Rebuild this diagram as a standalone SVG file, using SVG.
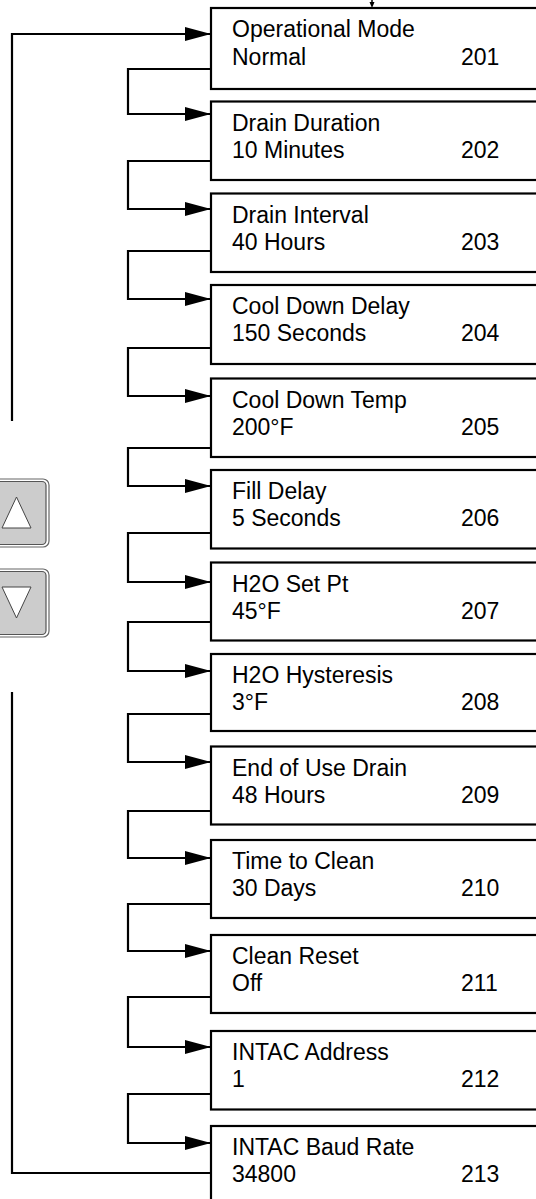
<svg xmlns="http://www.w3.org/2000/svg" width="536" height="1199" viewBox="0 0 536 1199">
<style>
.box{fill:#fff;stroke:#000;stroke-width:2.2}
.t{font-family:"Liberation Sans",Arial,sans-serif;font-size:23px;fill:#000}
.c{fill:none;stroke:#000;stroke-width:2.2}
.btno{fill:#fff;stroke:#666;stroke-width:1.2}
.btni{fill:#cccccc;stroke:#555;stroke-width:1.2}
.tri{fill:#fff;stroke:#444;stroke-width:1}
</style>
<defs>
<marker id="ah" viewBox="0 0 26 14" refX="26" refY="7" markerWidth="26" markerHeight="14" markerUnits="userSpaceOnUse" orient="auto">
<path d="M0,0 L26,7 L0,14 Z" fill="#000"/>
</marker>
</defs>
<rect width="536" height="1199" fill="#fff"/>
<g id="connectors">
<line x1="372" y1="0" x2="372" y2="3" stroke="#000" stroke-width="1.5"/>
<polygon points="369.5,2 374.5,2 372,8" fill="#000"/>
<path class="c" d="M211,1173 H12 V692"/>
<path class="c" d="M12,421 V34 H211" marker-end="url(#ah)"/>
<path class="c" d="M211,69 H128 V114 H211" marker-end="url(#ah)"/>
<path class="c" d="M211,161 H128 V209 H211" marker-end="url(#ah)"/>
<path class="c" d="M211,251 H128 V299 H211" marker-end="url(#ah)"/>
<path class="c" d="M211,348 H128 V396 H211" marker-end="url(#ah)"/>
<path class="c" d="M211,448 H128 V486 H211" marker-end="url(#ah)"/>
<path class="c" d="M211,533 H128 V582 H211" marker-end="url(#ah)"/>
<path class="c" d="M211,622 H128 V671 H211" marker-end="url(#ah)"/>
<path class="c" d="M211,714 H128 V762 H211" marker-end="url(#ah)"/>
<path class="c" d="M211,811 H128 V858 H211" marker-end="url(#ah)"/>
<path class="c" d="M211,904 H128 V951 H211" marker-end="url(#ah)"/>
<path class="c" d="M211,997 H128 V1047 H211" marker-end="url(#ah)"/>
<path class="c" d="M211,1094 H128 V1143 H211" marker-end="url(#ah)"/>
</g>
<g id="btn-up">
<rect class="btno" x="-6" y="479" width="55" height="68" rx="6"/>
<rect class="btni" x="-4" y="481.5" width="50" height="63" rx="4"/>
<polygon class="tri" points="2,528 31,528 16.5,497"/>
</g>
<g id="btn-down">
<rect class="btno" x="-6" y="569" width="55" height="68" rx="6"/>
<rect class="btni" x="-4" y="571.5" width="50" height="63" rx="4"/>
<polygon class="tri" points="2,587 31,587 16.5,618"/>
</g>
<g id="n201"><rect class="box" x="211" y="8" width="340" height="81"/><text class="t" x="232" y="37">Operational Mode</text><text class="t" x="232" y="65">Normal</text><text class="t" x="461" y="65">201</text></g>
<g id="n202"><rect class="box" x="211" y="101.5" width="340" height="78.5"/><text class="t" x="232" y="130.5">Drain Duration</text><text class="t" x="232" y="157.5">10 Minutes</text><text class="t" x="461" y="157.5">202</text></g>
<g id="n203"><rect class="box" x="211" y="193.5" width="340" height="78.5"/><text class="t" x="232" y="222.5">Drain Interval</text><text class="t" x="232" y="249.5">40 Hours</text><text class="t" x="461" y="249.5">203</text></g>
<g id="n204"><rect class="box" x="211" y="285" width="340" height="79"/><text class="t" x="232" y="314">Cool Down Delay</text><text class="t" x="232" y="341">150 Seconds</text><text class="t" x="461" y="341">204</text></g>
<g id="n205"><rect class="box" x="211" y="378.5" width="340" height="78.5"/><text class="t" x="232" y="407.5">Cool Down Temp</text><text class="t" x="232" y="434.5">200°F</text><text class="t" x="461" y="434.5">205</text></g>
<g id="n206"><rect class="box" x="211" y="470" width="340" height="78.5"/><text class="t" x="232" y="499">Fill Delay</text><text class="t" x="232" y="526">5 Seconds</text><text class="t" x="461" y="526">206</text></g>
<g id="n207"><rect class="box" x="211" y="562.5" width="340" height="78"/><text class="t" x="232" y="591.5">H2O Set Pt</text><text class="t" x="232" y="618.5">45°F</text><text class="t" x="461" y="618.5">207</text></g>
<g id="n208"><rect class="box" x="211" y="654" width="340" height="77"/><text class="t" x="232" y="683">H2O Hysteresis</text><text class="t" x="232" y="710">3°F</text><text class="t" x="461" y="710">208</text></g>
<g id="n209"><rect class="box" x="211" y="746.5" width="340" height="78"/><text class="t" x="232" y="775.5">End of Use Drain</text><text class="t" x="232" y="802.5">48 Hours</text><text class="t" x="461" y="802.5">209</text></g>
<g id="n210"><rect class="box" x="211" y="840" width="340" height="78"/><text class="t" x="232" y="869">Time to Clean</text><text class="t" x="232" y="896">30 Days</text><text class="t" x="461" y="896">210</text></g>
<g id="n211"><rect class="box" x="211" y="935" width="340" height="78"/><text class="t" x="232" y="964">Clean Reset</text><text class="t" x="232" y="991">Off</text><text class="t" x="461" y="991">211</text></g>
<g id="n212"><rect class="box" x="211" y="1031" width="340" height="78.5"/><text class="t" x="232" y="1060">INTAC Address</text><text class="t" x="232" y="1087">1</text><text class="t" x="461" y="1087">212</text></g>
<g id="n213"><rect class="box" x="211" y="1126" width="340" height="90"/><text class="t" x="232" y="1155">INTAC Baud Rate</text><text class="t" x="232" y="1182">34800</text><text class="t" x="461" y="1182">213</text></g>
</svg>
